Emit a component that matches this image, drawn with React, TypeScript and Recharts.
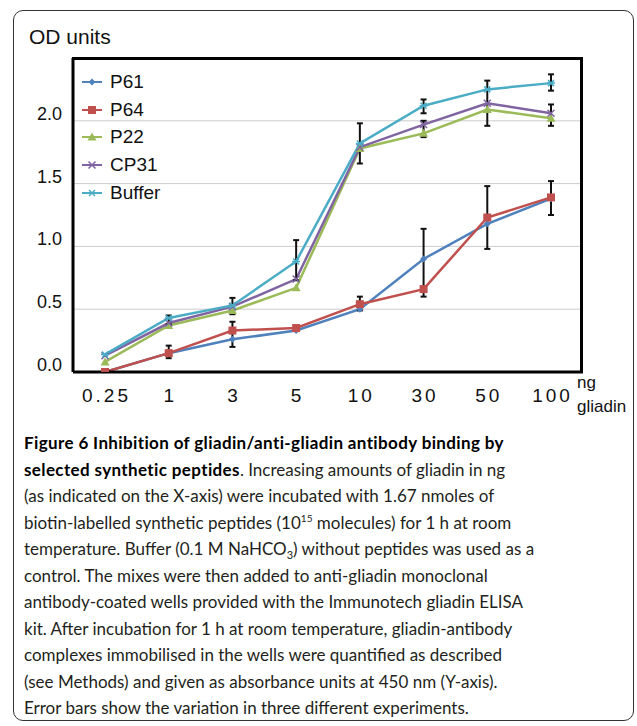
import React from "react";
import {
  LineChart,
  Line,
  XAxis,
  YAxis,
  CartesianGrid,
  ErrorBar,
} from "recharts";

const doses = ["0.25", "1", "3", "5", "10", "30", "50", "100"];

const p61 = [0.0, 0.15, 0.26, 0.33, 0.5, 0.9, 1.18, 1.38];
const p64 = [0.0, 0.15, 0.33, 0.35, 0.54, 0.66, 1.23, 1.39];
const p22 = [0.08, 0.37, 0.49, 0.67, 1.78, 1.9, 2.09, 2.02];
const cp31 = [0.13, 0.39, 0.52, 0.74, 1.79, 1.97, 2.14, 2.06];
const buffer = [0.14, 0.43, 0.53, 0.88, 1.82, 2.12, 2.25, 2.3];

// [minus, plus] error, null = no bar drawn
const p61Err = [null, null, [0.06, 0.14], null, null, [0.3, 0.24], null, null];
const p64Err = [null, [0.04, 0.06], null, null, [0.05, 0.06], null, [0.25, 0.25], [0.14, 0.13]];
const p22Err = [null, null, null, null, null, [0.03, 0.1], null, null];
const cp31Err = [null, null, null, null, null, null, [0.18, 0.18], [0.1, 0.07]];
const bufferErr = [null, [0.05, 0.02], [0.07, 0.06], [0.15, 0.17], [0.16, 0.16], [0.06, 0.05], null, [0.06, 0.07]];

const yTicks = [0, 0.5, 1, 1.5, 2];

const data = doses.map((d, i) => ({
  dose: d,
  p61: p61[i],
  p64: p64[i],
  p22: p22[i],
  cp31: cp31[i],
  buffer: buffer[i],
  p61Err: p61Err[i],
  p64Err: p64Err[i],
  p22Err: p22Err[i],
  cp31Err: cp31Err[i],
  bufferErr: bufferErr[i],
}));

const series = [
  { key: "p61", name: "P61", color: "#4f81bd", shape: "diamond" },
  { key: "p64", name: "P64", color: "#c0504d", shape: "square" },
  { key: "p22", name: "P22", color: "#9bbb59", shape: "triangle" },
  { key: "cp31", name: "CP31", color: "#8064a2", shape: "cross" },
  { key: "buffer", name: "Buffer", color: "#4bacc6", shape: "star" },
];

const AXIS_FONT = "'Liberation Sans', Arial, sans-serif";

function Marker({ cx, cy, shape, color }: any) {
  if (cx == null || cy == null) return null;
  if (shape === "square")
    return <rect x={cx - 4} y={cy - 4} width={8} height={8} fill={color} />;
  if (shape === "diamond")
    return (
      <polygon
        points={`${cx},${cy - 3.5} ${cx + 3.5},${cy} ${cx},${cy + 3.5} ${cx - 3.5},${cy}`}
        fill={color}
      />
    );
  if (shape === "triangle")
    return (
      <polygon
        points={`${cx},${cy - 4.5} ${cx + 4.5},${cy + 3.5} ${cx - 4.5},${cy + 3.5}`}
        fill={color}
      />
    );
  if (shape === "cross")
    return (
      <path
        d={`M${cx - 3.5},${cy - 3.5}L${cx + 3.5},${cy + 3.5}M${cx - 3.5},${cy + 3.5}L${cx + 3.5},${cy - 3.5}`}
        stroke={color}
        strokeWidth={1.5}
      />
    );
  return (
    <path
      d={`M${cx - 4},${cy}L${cx + 4},${cy}M${cx - 3},${cy - 3}L${cx + 3},${cy + 3}M${cx - 3},${cy + 3}L${cx + 3},${cy - 3}`}
      stroke={color}
      strokeWidth={1.5}
    />
  );
}

const XTick = ({ x, y, payload }: any) => (
  <text
    x={x + 1.5}
    y={y + 22}
    textAnchor="middle"
    fontFamily={AXIS_FONT}
    fontSize={19}
    letterSpacing={3}
    fill="#111"
  >
    {payload.value}
  </text>
);

const YTick = ({ y, payload }: any) => (
  <text
    x={62}
    y={y - 1}
    textAnchor="end"
    fontFamily={AXIS_FONT}
    fontSize={18}
    fill="#111"
  >
    {Number(payload.value).toFixed(1)}
  </text>
);

const LegendBox = () => (
  <div>
    {series.map((s) => (
      <div
        key={s.key}
        style={{
          display: "flex",
          alignItems: "center",
          height: 27.8,
          fontFamily: AXIS_FONT,
          fontSize: 19,
          color: "#111",
        }}
      >
        <svg width={34} height={12} style={{ flexShrink: 0, background: "#fff" }}>
          <line x1={6} y1={6} x2={26} y2={6} stroke={s.color} strokeWidth={2} />
          <Marker cx={16} cy={6} shape={s.shape} color={s.color} />
        </svg>
        <span style={{ whiteSpace: "nowrap" }}>{s.name}</span>
      </div>
    ))}
  </div>
);

export default function App() {
  return (
    <div style={{ position: "relative", width: 637, height: 726, background: "#fff" }}>
      <style>{"body{margin:0}"}</style>
      <div
        style={{
          position: "absolute",
          left: 13,
          top: 10,
          width: 619,
          height: 709,
          border: "1.5px solid #333",
          borderRadius: 10,
        }}
      />
      <div
        style={{
          position: "absolute",
          left: 29,
          top: 24,
          fontFamily: AXIS_FONT,
          fontSize: 21,
          color: "#111",
          lineHeight: "26px",
        }}
      >
        OD units
      </div>
      <div style={{ position: "absolute", left: 0, top: 0 }}>
        <LineChart
          width={637}
          height={420}
          data={data}
          margin={{ top: 58, right: 54, left: 0, bottom: 18 }}
        >
          <CartesianGrid vertical={false} stroke="#cccccc" strokeWidth={1} />
          <XAxis
            dataKey="dose"
            height={30}
            padding={{ left: 32, right: 32 }}
            tick={<XTick />}
            tickLine={false}
            axisLine={{ stroke: "#000", strokeWidth: 3 }}
          />
          <YAxis
            width={73}
            domain={[0, 2.5]}
            ticks={yTicks}
            allowDataOverflow
            tick={<YTick />}
            tickLine={false}
            axisLine={{ stroke: "#000", strokeWidth: 3 }}
          />
          {series.map((s) => (
            <Line
              key={s.key}
              dataKey={s.key}
              name={s.name}
              stroke={s.color}
              strokeWidth={2.5}
              isAnimationActive={false}
              dot={(p: any) => (
                <Marker key={`${s.key}-${p.index}`} cx={p.cx} cy={p.cy} shape={s.shape} color={s.color} />
              )}
              activeDot={false}
            >
              <ErrorBar
                dataKey={`${s.key}Err`}
                direction="y"
                width={3}
                stroke="#111"
                strokeWidth={2}
              />
            </Line>
          ))}
        </LineChart>
      </div>
      <div style={{ position: "absolute", left: 76, top: 68, width: 120 }}>
        <LegendBox />
      </div>
      <div
        style={{
          position: "absolute",
          left: 72,
          top: 57,
          width: 508,
          height: 312,
          border: "3px solid #000",
          borderLeft: "none",
          borderBottom: "none",
          pointerEvents: "none",
        }}
      />
      <div
        style={{
          position: "absolute",
          left: 577,
          top: 371,
          fontFamily: AXIS_FONT,
          fontSize: 17,
          lineHeight: "24px",
          color: "#111",
        }}
      >
        ng
        <br />
        gliadin
      </div>
      <div
        style={{
          position: "absolute",
          left: 24,
          top: 430,
          fontFamily: "Lato, 'Open Sans', sans-serif",
          fontSize: 17,
          lineHeight: "26.5px",
          color: "#231f20",
          whiteSpace: "nowrap",
        }}
      >
        <b style={{ color: "#000", letterSpacing: 0.37 }}>
          Figure 6 Inhibition of gliadin/anti-gliadin antibody binding by
        </b>
        <br />
        <b style={{ color: "#000", letterSpacing: 0.37 }}>selected synthetic peptides</b>. Increasing amounts of gliadin in ng
        <br />
        (as indicated on the X-axis) were incubated with 1.67 nmoles of
        <br />
        biotin-labelled synthetic peptides (10<sup style={{ fontSize: 10, lineHeight: 0 }}>15</sup> molecules) for 1 h at room
        <br />
        temperature. Buffer (0.1 M NaHCO<sub style={{ fontSize: 11, lineHeight: 0 }}>3</sub>) without peptides was used as a
        <br />
        control. The mixes were then added to anti-gliadin monoclonal
        <br />
        antibody-coated wells provided with the Immunotech gliadin ELISA
        <br />
        kit. After incubation for 1 h at room temperature, gliadin-antibody
        <br />
        complexes immobilised in the wells were quantified as described
        <br />
        (see Methods) and given as absorbance units at 450 nm (Y-axis).
        <br />
        Error bars show the variation in three different experiments.
      </div>
    </div>
  );
}
